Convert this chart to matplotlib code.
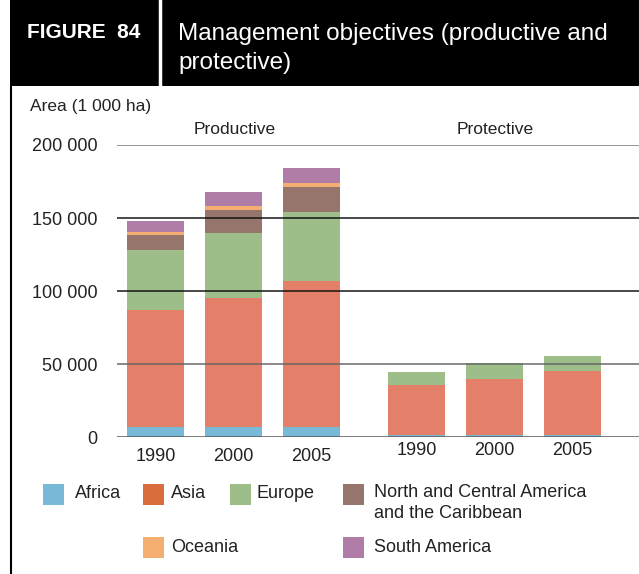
import matplotlib
matplotlib.use("Agg")
import matplotlib.pyplot as plt
from matplotlib.patches import Rectangle
import numpy as np

plt.rcParams['font.family'] = ['Liberation Sans', 'DejaVu Sans']

years = ["1990", "2000", "2005"]
groups = ["Productive", "Protective"]
regions = ["Africa", "Asia", "Europe", "North and Central America\nand the Caribbean", "Oceania", "South America"]

# values in 1 000 ha, per year 1990, 2000, 2005
prod_africa = [7200, 7200, 7200]
prod_asia = [79800, 88200, 99600]
prod_europe = [41000, 44400, 47100]
prod_nca = [10200, 15500, 17100]
prod_oceania = [2300, 2700, 2700]
prod_samerica = [7300, 9600, 10300]

prot_africa = [1800, 1800, 1800]
prot_asia = [33700, 38300, 43700]
prot_europe = [9400, 10900, 10300]
prot_nca = [0, 0, 0]
prot_oceania = [0, 0, 0]
prot_samerica = [0, 0, 0]

yticks = [0, 50000, 100000, 150000, 200000]
ytick_labels = ["0", "50 000", "100 000", "150 000", "200 000"]

bar_colors = ["#78B9D8", "#E4806A", "#9DBE88", "#96756C", "#F5AE72", "#B07DA8"]
legend_colors = ["#78B9D8", "#D96D3E", "#9DBE88", "#96756C", "#F5AE72", "#B07DA8"]

W, H = 639, 574
fig = plt.figure(figsize=(W / 100, H / 100), dpi=100)

def fx(px):
    return px / W

def fy(py):
    return 1 - py / H

# header
fig.patches.append(Rectangle((fx(10), fy(86)), fx(639 - 10), 86 / H, transform=fig.transFigure,
                             facecolor="black", edgecolor="none", zorder=0))
fig.add_artist(plt.Line2D([fx(160), fx(160)], [fy(0), fy(86)], color="white", lw=2.5, transform=fig.transFigure))
fig.add_artist(plt.Line2D([fx(10.5), fx(10.5)], [fy(86), fy(574)], color="black", lw=1.5, transform=fig.transFigure))
fig.text(fx(27), fy(33), "FIGURE  84", color="white", fontsize=15, fontweight="bold", va="center", ha="left")
fig.text(fx(178), fy(48.5), "Management objectives (productive and\nprotective)", color="white",
         fontsize=17.5, va="center", ha="left", linespacing=1.45)

ax = fig.add_axes([fx(117), fy(437.3), fx(639 - 117), (437.3 - 145) / H])
ax.set_xlim(-0.494, 6.2)
ax.set_ylim(0, 200000)
for s in ax.spines.values():
    s.set_visible(False)
ax.set_xticks([])
ax.set_yticks(yticks)
ax.set_yticklabels(ytick_labels, fontsize=13, color="#222222")
ax.tick_params(axis="y", length=0, pad=14)

prod = [prod_africa, prod_asia, prod_europe, prod_nca, prod_oceania, prod_samerica]
prot = [prot_africa, prot_asia, prot_europe, prot_nca, prot_oceania, prot_samerica]
xprod = np.arange(3)
xprot = np.arange(3) + 3.35
width = 0.73
for xs, data in ((xprod, prod), (xprot, prot)):
    bottom = np.zeros(3)
    for vals, c in zip(data, bar_colors):
        v = np.array(vals, dtype=float)
        ax.bar(xs, v, width, bottom=bottom, color=c, edgecolor="none", zorder=2)
        bottom += v

grid_colors = ["#555555", "#666666", "#111111", "#111111", "#777777"]
for yv, gc in zip(yticks, grid_colors):
    ax.axhline(yv, color=gc, lw=1.2, zorder=3, alpha=0.9)

for x, y in zip(xprod, years):
    ax.text(x, -7500, y, ha="center", va="top", fontsize=13, color="#222222")
for x, y in zip(xprot, years):
    ax.text(x, -3000, y, ha="center", va="top", fontsize=13, color="#222222")

fig.text(fx(30), fy(107), "Area (1 000 ha)", fontsize=12.5, color="#222222", va="center", ha="left")
fig.text(fx(235), fy(129), "Productive", fontsize=12.5, color="#222222", va="center", ha="center")
fig.text(fx(495), fy(129), "Protective", fontsize=12.5, color="#222222", va="center", ha="center")

# legend
leg_pos = [(43, 494, 75), (143, 494, 171), (230, 494, 257), (343, 494, 374), (143, 547, 171), (343, 547, 374)]
for (px, py, tx), name, c in zip(leg_pos, regions, legend_colors):
    fig.patches.append(Rectangle((fx(px), fy(py + 10.5)), fx(21), 21 / H, transform=fig.transFigure,
                                 facecolor=c, edgecolor="none"))
    if "\n" in name:
        fig.text(fx(tx), fy(py - 10), name, fontsize=13, color="#222222", va="top", ha="left", linespacing=1.3)
    else:
        fig.text(fx(tx), fy(py), name, fontsize=13, color="#222222", va="center", ha="left")

fig.savefig("out.png", dpi=100)
